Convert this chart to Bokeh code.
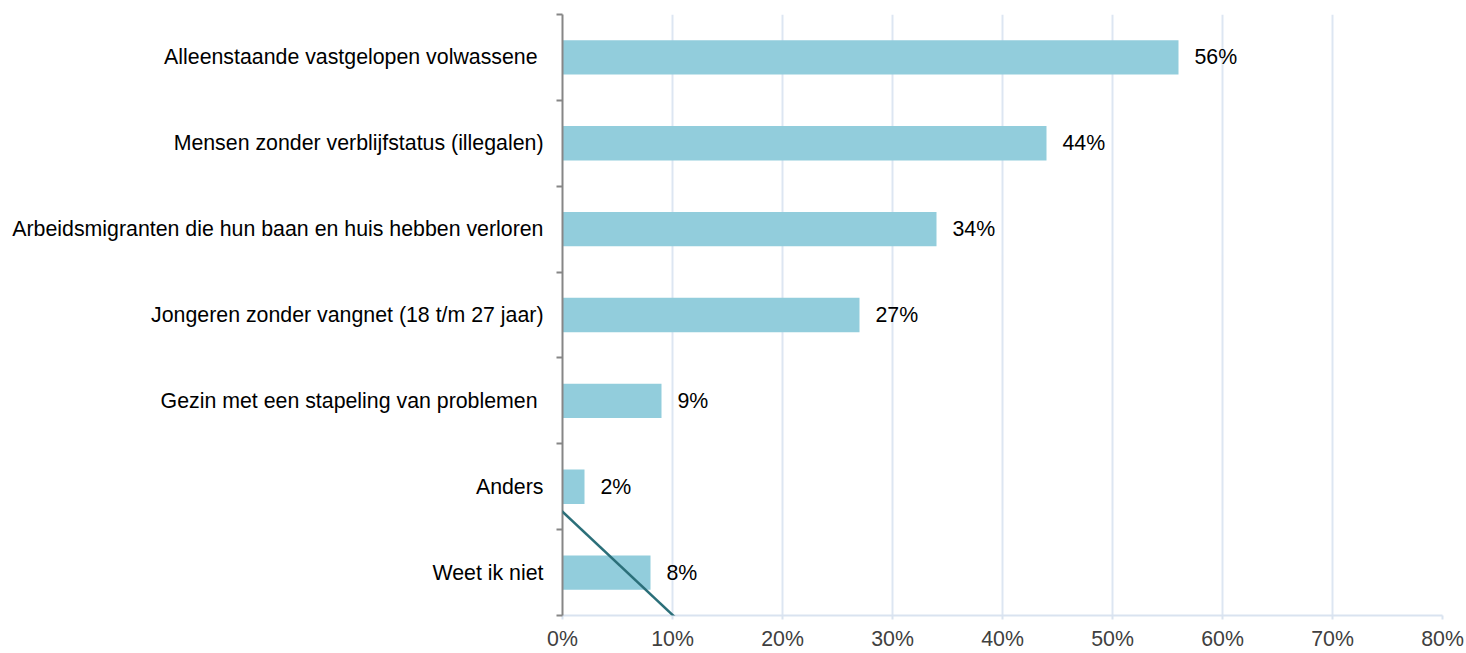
from bokeh.plotting import figure
from bokeh.models import (Range1d, FixedTicker, PrintfTickFormatter, ColumnDataSource,
                          Arrow)
from bokeh.core.properties import value
from bokeh.embed import file_html
from bokeh.resources import INLINE

# ---- data (top to bottom as shown) ----
categories = [
    "Alleenstaande vastgelopen volwassene ",
    "Mensen zonder verblijfstatus (illegalen)",
    "Arbeidsmigranten die hun baan en huis hebben verloren",
    "Jongeren zonder vangnet (18 t/m 27 jaar)",
    "Gezin met een stapeling van problemen ",
    "Anders",
    "Weet ik niet",
]
percentages = [56, 44, 34, 27, 9, 2, 8]
x_tick_values = [0, 10, 20, 30, 40, 50, 60, 70, 80]

# stray diagonal connector line visible in the picture (data units)
line_start = (-0.18, 1.23)
line_end = (13.64, -0.43)

FONT = "Liberation Sans"
FS = "21.33px"
n = len(categories)
ypos = [n - 0.5 - i for i in range(n)]
labels = [f"{v}%" for v in percentages]

src = ColumnDataSource(dict(y=ypos, v=percentages, lab=labels))

p = figure(width=1466, height=653, x_range=Range1d(0, 80), y_range=Range1d(0, n),
           output_backend="svg", toolbar_location=None,
           min_border_left=562, min_border_right=24, min_border_top=14, min_border_bottom=37)
p.outline_line_color = None
p.background_fill_color = "white"
p.border_fill_color = "white"

p.hbar(y="y", right="v", left=0, height=0.4, source=src,
       fill_color="#92cddc", line_color=None)

p.text(x="v", y="y", text="lab", source=src, x_offset=16,
       text_align="left", text_baseline="middle",
       text_font=value(FONT), text_font_size=FS, text_color="#000000")

# x axis
p.xaxis.ticker = FixedTicker(ticks=x_tick_values)
p.xaxis.formatter = PrintfTickFormatter(format="%d%%")
p.xaxis.axis_line_color = "#d9e3f0"
p.xaxis.axis_line_width = 2
p.xaxis.major_tick_line_color = "#d9e3f0"
p.xaxis.major_tick_line_width = 2
p.xaxis.major_tick_out = 4
p.xaxis.major_tick_in = 0
p.xaxis.minor_tick_line_color = None
p.xaxis.major_label_standoff = 7
p.xaxis.major_label_text_font = FONT
p.xaxis.major_label_text_font_size = FS
p.xaxis.major_label_text_color = "#404040"

# y axis: labels centred, ticks on category boundaries
p.yaxis.ticker = FixedTicker(ticks=ypos, minor_ticks=list(range(n + 1)))
p.yaxis.major_label_overrides = {y: c for y, c in zip(ypos, categories)}
p.yaxis.major_tick_line_color = None
p.yaxis.major_tick_out = 0
p.yaxis.major_tick_in = 0
p.yaxis.minor_tick_line_color = "#868686"
p.yaxis.minor_tick_line_width = 2
p.yaxis.minor_tick_out = 6
p.yaxis.minor_tick_in = 0
p.yaxis.axis_line_color = "#868686"
p.yaxis.axis_line_width = 2
p.yaxis.major_label_standoff = 13
p.yaxis.major_label_text_font = FONT
p.yaxis.major_label_text_font_size = FS
p.yaxis.major_label_text_color = "#000000"

p.xgrid.ticker = FixedTicker(ticks=x_tick_values)
p.xgrid.grid_line_color = "#dde6f2"
p.xgrid.grid_line_width = 2
p.ygrid.grid_line_color = None

p.add_layout(Arrow(end=None, x_start=line_start[0], y_start=line_start[1],
                   x_end=line_end[0], y_end=line_end[1],
                   line_color="#2b6f79", line_width=2.5))

open("out.html", "w").write(file_html(p, INLINE))
